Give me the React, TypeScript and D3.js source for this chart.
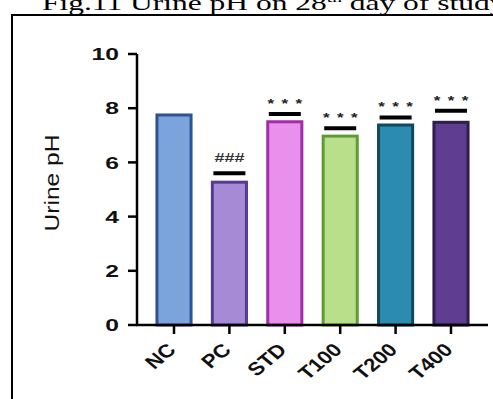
import React from "react";
import * as d3 from "d3";

const categories = ["NC", "PC", "STD", "T100", "T200", "T400"];
const means = [7.75, 5.27, 7.5, 6.97, 7.38, 7.48];
const capValues = [null, 5.6, 7.79, 7.26, 7.66, 7.91];
const sigLabels = ["", "###", "***", "***", "***", "***"];
const fills = ["#7ba3dc", "#a68ad6", "#e98fec", "#b9df8b", "#2b8bb0", "#5f3d91"];
const strokes = ["#2f5392", "#573a91", "#a42ba9", "#5e9b34", "#0f4a60", "#2d1f4c"];
const yTicks = [0, 2, 4, 6, 8, 10];

const SANS = "'Liberation Sans', Arial, Helvetica, sans-serif";
const SX = 1.5;

export default function App() {
  const W = 493, H = 399;
  const y = d3.scaleLinear().domain([0, 10]).range([325, 54]);
  const x = d3.scaleBand().domain(categories).range([137, 488]).paddingInner(0.33).paddingOuter(0.333);
  const bw = x.bandwidth();
  return (
    <svg width={W} height={H} style={{ position: "absolute", left: 0, top: 0 }}>
      <rect x={0} y={0} width={W} height={H} fill="#fff" />
      <text transform={`translate(42,9.5) scale(1.5,1)`} fontFamily="'Liberation Serif', 'Times New Roman', serif" fontSize={21} fill="#000">
        Fig.11 Urine pH on 28<tspan dy={-8} fontSize={13}>th</tspan><tspan dy={8}> day of study</tspan>
      </text>
      <rect x={12} y={15} width={500} height={420} fill="none" stroke="#000" strokeWidth={2} />
      {/* bars */}
      {categories.map((c, i) => (
        <rect key={c} x={x(c)! + 1.5} y={y(means[i])} width={bw - 3} height={y(0) - y(means[i])}
          fill={fills[i]} stroke={strokes[i]} strokeWidth={3} />
      ))}
      {/* caps and significance */}
      {categories.map((c, i) => {
        const v = capValues[i];
        if (v == null) return null;
        const cx = x(c)! + bw / 2;
        const lab = sigLabels[i];
        return (
          <g key={c + "s"}>
            <line x1={cx - 16} x2={cx + 16} y1={y(v)} y2={y(v)} stroke="#000" strokeWidth={4} />
            {lab === "###" ? (
              <text transform={`translate(${cx},${y(v) - 11}) scale(${SX},1)`} textAnchor="middle" fontFamily={SANS}
                fontSize={12} fontWeight="bold" fill="#333">{lab}</text>
            ) : (
              [-14, 0, 14].map((dx) => (
                <text key={dx} transform={`translate(${cx + dx},${y(v) - 6}) scale(1.3,1)`} textAnchor="middle"
                  fontFamily={SANS} fontSize={13} fontWeight="bold" fill="#222">*</text>
              ))
            )}
          </g>
        );
      })}
      {/* y axis */}
      <line x1={137} x2={137} y1={y(10)} y2={y(0)} stroke="#000" strokeWidth={2.5} />
      {yTicks.map((t) => (
        <g key={t}>
          <line x1={128} x2={137} y1={y(t)} y2={y(t)} stroke="#000" strokeWidth={2.5} />
          <text transform={`translate(119,${y(t)}) scale(1.45,1)`} dy="0.36em" textAnchor="end" fontFamily={SANS}
            fontSize={17} fontWeight="bold" fill="#111">{t}</text>
        </g>
      ))}
      <text transform={`translate(59,${183}) rotate(-90)`} textAnchor="middle" textLength={97} lengthAdjust="spacingAndGlyphs"
        fontFamily={SANS} fontSize={20} fill="#111">Urine pH</text>
      {/* x axis */}
      <line x1={136} x2={488} y1={y(0)} y2={y(0)} stroke="#000" strokeWidth={2.5} />
      {categories.map((c) => {
        const cx = x(c)! + bw / 2;
        return (
          <g key={c + "t"}>
            <line x1={cx} x2={cx} y1={y(0)} y2={y(0) + 9} stroke="#000" strokeWidth={2.5} />
            <text transform={`translate(${cx + 3},${y(0) + 26}) scale(1.2,1) rotate(-45)`} textAnchor="end"
              fontFamily={SANS} fontSize={18.5} fontWeight="bold" fill="#111">{c}</text>
          </g>
        );
      })}
    </svg>
  );
}
